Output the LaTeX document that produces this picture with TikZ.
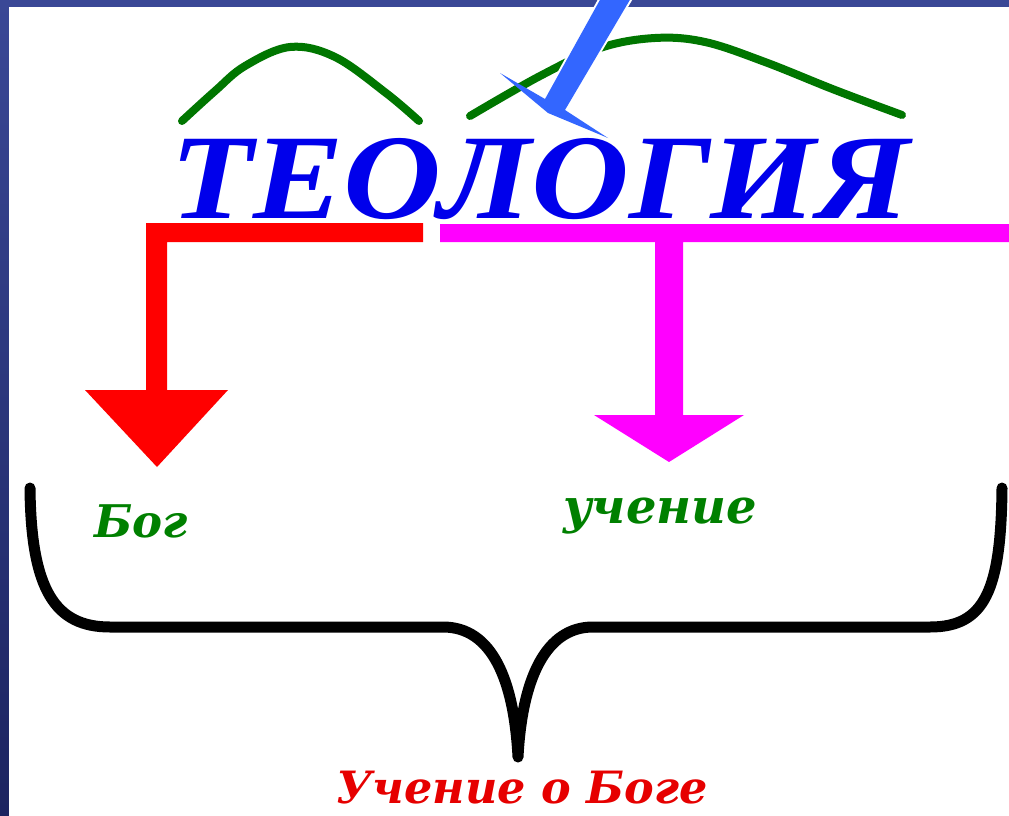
\documentclass[tikz,border=0pt]{standalone}
\usepackage{fontspec}
\setmainfont{Liberation Serif}
\newfontfamily\labfont{DejaVu Serif}
\definecolor{bgtop}{RGB}{58,72,150}
\definecolor{bgbot}{RGB}{28,36,96}
\definecolor{titleblue}{RGB}{0,0,235}
\definecolor{arcgreen}{RGB}{0,118,0}
\definecolor{txtgreen}{RGB}{0,128,0}
\definecolor{arrblue}{RGB}{51,102,255}
\definecolor{redc}{RGB}{255,0,0}
\definecolor{magc}{RGB}{255,0,255}
\definecolor{redtxt}{RGB}{230,0,0}
\tikzset{
  lbl/.style={inner sep=0pt, anchor=base},
  arcline/.style={draw=arcgreen, line width=8pt, line cap=round},
  brace/.style={draw=black, line width=11pt, line cap=round, line join=round},
}
\begin{document}
\begin{tikzpicture}[x=1pt,y=-1pt]
\useasboundingbox (0,0) rectangle (1009,816);
\shade[top color=bgtop, bottom color=bgbot] (0,0) rectangle (1009,816);
\fill[white] (9,7) rectangle (1009,816);
% green arcs
\draw[arcline] plot[smooth, tension=0.6] coordinates {(182,121) (215,91) (245,66) (290,47) (335,57) (386,93) (419,121)};
\draw[arcline] plot[smooth, tension=0.6] coordinates {(470,116) (540,76) (600,48) (655,38) (705,42) (765,62) (835,90) (902,115)};
% title
\node[lbl, text=titleblue, xscale=1.12, font=\bfseries\itshape\fontsize{121}{121}\selectfont] (title) at (540,218) {ТЕОЛОГИЯ};
% blue arrow
\draw[white, line width=4pt, line join=round] (601,-2) -- (631,-2) -- (565,110) -- (545,99) -- cycle;
\fill[arrblue] (601,-2) -- (631,-2) -- (565,110) -- (608,138) -- (548,113) -- (500,73) -- (545,99) -- cycle;
% red bracket arrow
\fill[redc] (146,223) -- (423,223) -- (423,242) -- (167,242) -- (167,390) -- (228,390) -- (157,467) -- (85,390) -- (146,390) -- cycle;
% magenta T arrow
\fill[magc] (440,224) -- (1009,224) -- (1009,242) -- (683,242) -- (683,415) -- (744,415) -- (669,462) -- (594,415) -- (655,415) -- (655,242) -- (440,242) -- cycle;
% labels
\node[lbl, text=txtgreen, font=\labfont\bfseries\itshape\fontsize{45}{45}\selectfont] (bog) at (141,537) {Бог};
\node[lbl, text=txtgreen, font=\labfont\bfseries\itshape\fontsize{48}{48}\selectfont] (uch) at (660,523) {учение};
\node[lbl, text=redtxt, font=\labfont\bfseries\itshape\fontsize{44.5}{44.5}\selectfont] (bottom) at (522,803) {Учение о Боге};
% brace
\draw[brace] (30,488) .. controls (31,590) and (55,627) .. (110,627) -- (443,627)
  .. controls (492,627) and (514,680) .. (518,757)
  .. controls (522,680) and (545,627) .. (593,627) -- (930,627)
  .. controls (985,627) and (1001,590) .. (1002,488);
\end{tikzpicture}
\end{document}
